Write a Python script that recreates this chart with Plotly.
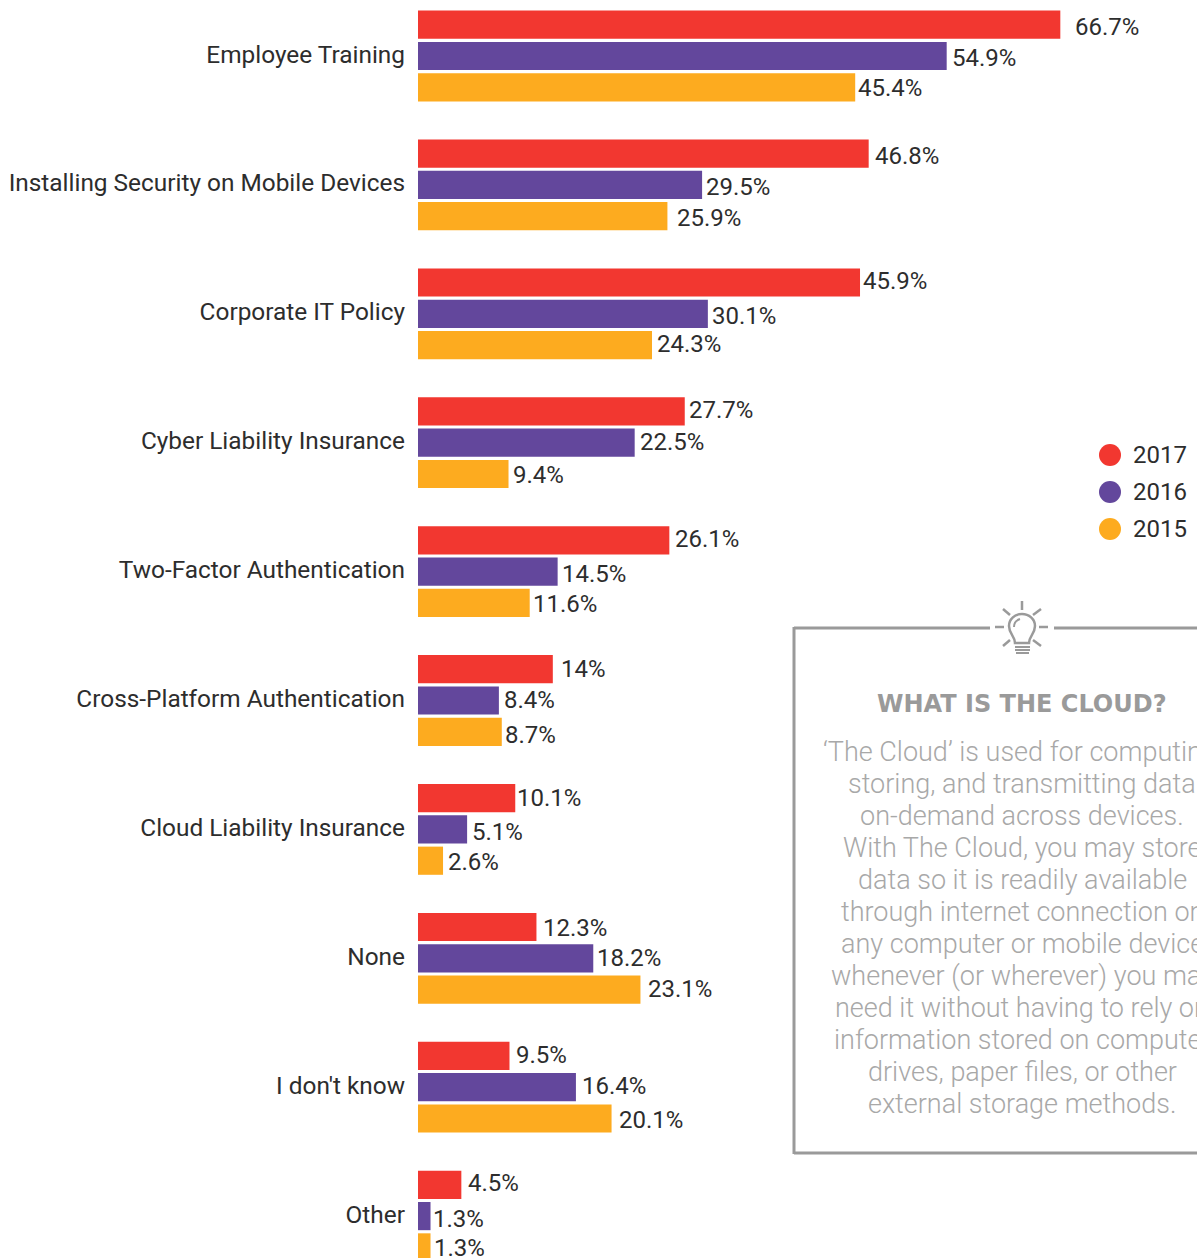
import plotly.graph_objects as go

W, H = 1197, 1258

categories = ["Employee Training", "Installing Security on Mobile Devices", "Corporate IT Policy",
              "Cyber Liability Insurance", "Two-Factor Authentication", "Cross-Platform Authentication",
              "Cloud Liability Insurance", "None", "I don't know", "Other"]
values_2017 = [66.7, 46.8, 45.9, 27.7, 26.1, 14, 10.1, 12.3, 9.5, 4.5]
values_2016 = [54.9, 29.5, 30.1, 22.5, 14.5, 8.4, 5.1, 18.2, 16.4, 1.3]
values_2015 = [45.4, 25.9, 24.3, 9.4, 11.6, 8.7, 2.6, 23.1, 20.1, 1.3]

years = ["2017", "2016", "2015"]
colors = ["#F23730", "#63479C", "#FDAB1F"]
series = [values_2017, values_2016, values_2015]

# the value labels in the original sit a bit unevenly, so each one gets its own nudge (px)
label_dx = [[15, 6, 3, 4, 6, 8, 2, 7, 7, 7],
            [5, 4, 4, 5, 4, 5, 5, 4, 6, 2],
            [3, 10, 5, 4, 3, 3, 5, 8, 7, 3]]
label_dy = [[2, 2, -2, -2, -2, -1, 0, 1, -1, -2],
            [2, 2, 2, -1, 2, -1, 3, 0, -1, 3],
            [0, 1, -2, 0, 0, 2, 1, -1, 1, 0]]

box_title = "WHAT IS THE CLOUD?"
box_lines = ["‘The Cloud’ is used for computing,", "storing, and transmitting data", "on-demand across devices.",
             "With The Cloud, you may store", "data so it is readily available", "through internet connection on",
             "any computer or mobile device", "whenever (or wherever) you may", "need it without having to rely on",
             "information stored on computer", "drives, paper files, or other", "external storage methods."]

TEXT = "#2d2d2d"
GREY = "#9a9a9a"
BODY = "#a8a8a8"
STEP = 128.9  # px per category


def px(x):
    return x / W


def py(y):
    return 1 - y / H


def line(x0, y0, x1, y1, width=3):
    return dict(type="line", xref="paper", yref="paper", x0=px(x0), y0=py(y0), x1=px(x1), y1=py(y1),
                line=dict(color=GREY, width=width))


def path(pts):
    # pts is a list of (command, x, y, ...) in pixels
    out = ""
    for p in pts:
        out += p[0]
        out += " ".join(f"{px(p[i]):.5f},{py(p[i + 1]):.5f}" for i in range(1, len(p), 2)) + " "
    return out + "Z"


fig = go.Figure()

for year, color, vals in zip(years, colors, series):
    fig.add_trace(go.Bar(y=categories, x=vals, name=year, orientation="h",
                         marker=dict(color=color, line=dict(width=0)), showlegend=False))

annotations = []
offsets = [-31, 0, 32]
for s, vals in enumerate(series):
    for i, v in enumerate(vals):
        annotations.append(dict(x=v, y=categories[i], xref="x", yref="y", text=f"{v:g}%", showarrow=False,
                                xanchor="left", yanchor="middle", xshift=label_dx[s][i] - 2,
                                yshift=-(offsets[s] + label_dy[s][i]),
                                font=dict(family="Roboto", size=24, color=TEXT)))

# legend
shapes = []
for k, (year, color) in enumerate(zip(years, colors)):
    cy = 455 + 37 * k
    shapes.append(dict(type="circle", xref="paper", yref="paper", x0=px(1099), x1=px(1121), y0=py(cy + 11), y1=py(cy - 11),
                       fillcolor=color, line=dict(width=0)))
    annotations.append(dict(x=px(1131), y=py(cy - 0.5), xref="paper", yref="paper", text=year, showarrow=False,
                            xanchor="left", yanchor="middle", font=dict(family="Roboto", size=24, color=TEXT)))

# info box
shapes += [line(794, 628, 990, 628), line(1054, 628, W, 628), line(794, 627, 794, 1154), line(794, 1153, W, 1153)]

# bulb icon
shapes += [line(1022, 601, 1022, 610, 2.5), line(995, 627, 1004, 627, 2.5), line(1039, 627, 1048, 627, 2.5),
           line(1003, 609, 1010, 615, 2.5), line(1041, 609, 1033, 615, 2.5),
           line(1003, 646, 1010, 640, 2.5), line(1041, 646, 1033, 640, 2.5),
           line(1015, 647, 1030, 647, 2), line(1015, 650, 1030, 650, 2), line(1016, 653, 1029, 653, 2)]
shapes.append(dict(type="path", xref="paper", yref="paper", line=dict(color=GREY, width=2.5),
                   path=path([("M", 1015, 643), ("C", 1015, 636, 1009, 634, 1009, 626),
                              ("C", 1009, 619, 1015, 614, 1022, 614), ("C", 1029, 614, 1035, 619, 1035, 626),
                              ("C", 1035, 634, 1029, 636, 1029, 643)])))
shapes.append(dict(type="path", xref="paper", yref="paper", line=dict(color=GREY, width=2),
                   path=f"M{px(1014):.5f},{py(627):.5f} C{px(1014):.5f},{py(622):.5f} {px(1017):.5f},{py(620):.5f} {px(1020):.5f},{py(619):.5f}"))

annotations.append(dict(x=px(1022), y=py(704), xref="paper", yref="paper", text=f"<b>{box_title}</b>", showarrow=False,
                        xanchor="center", yanchor="middle", font=dict(family="DejaVu Sans", size=24, color=GREY)))
for n, txt in enumerate(box_lines):
    annotations.append(dict(x=px(1022), y=py(752 + 32 * n), xref="paper", yref="paper", text=txt, showarrow=False,
                            xanchor="center", yanchor="middle",
                            font=dict(family="Roboto", size=27, color=BODY, weight=300)))

fig.update_layout(
    width=W, height=H, autosize=False,
    margin=dict(l=0, r=0, t=0, b=0),
    paper_bgcolor="white", plot_bgcolor="white",
    barmode="group", bargap=35 / STEP, bargroupgap=0.1,
    xaxis=dict(domain=[418 / W, 1], range=[0, (W - 418) / 9.63], visible=False, fixedrange=True),
    yaxis=dict(domain=[0, 1], range=[(H - 56) / STEP, -56 / STEP], type="category", categoryorder="array",
               categoryarray=categories, showgrid=False, showline=False, zeroline=False, ticks="",
               ticklabelstandoff=12, ticklabelshift=2, tickfont=dict(family="Roboto", size=24.4, color=TEXT),
               automargin=False),
    shapes=shapes, annotations=annotations,
)

# the default page has an 8px body margin that would push the chart off the window
fig.write_html("out.html", config=dict(displayModeBar=False),
               post_script="document.body.style.margin='0';document.body.style.overflow='hidden';")
